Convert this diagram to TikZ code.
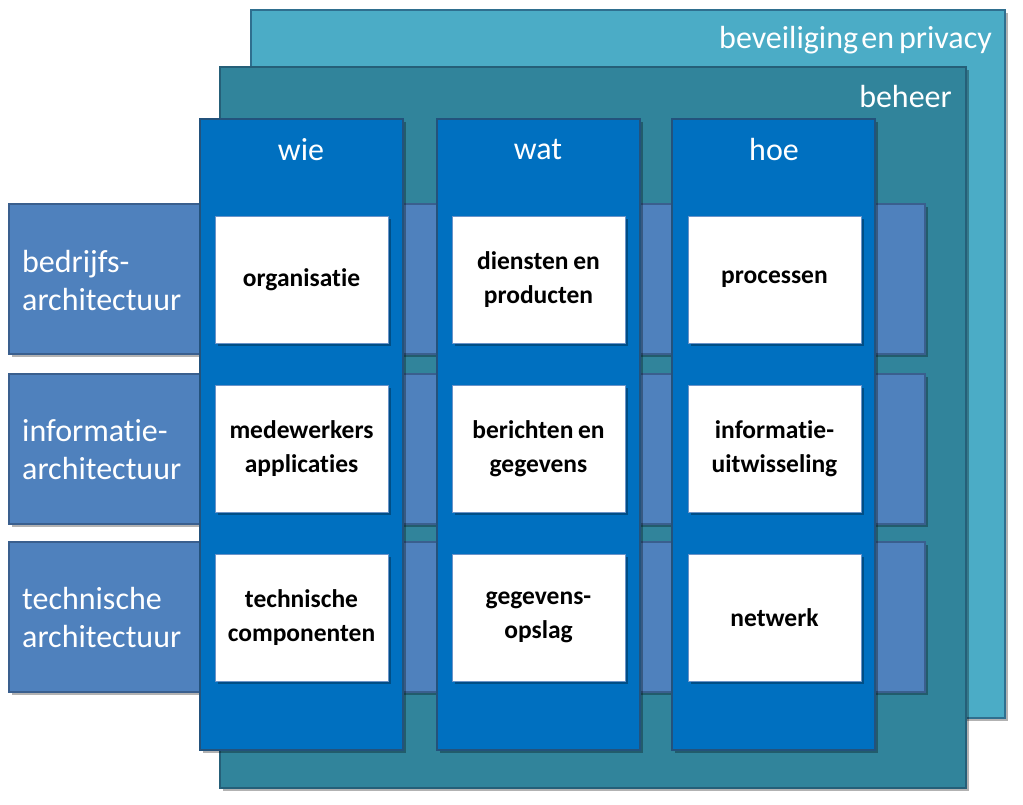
\documentclass[tikz,border=0pt]{standalone}
\usepackage{fontspec}
\setmainfont[Ligatures=NoCommon,Contextuals=NoAlternate,WordSpace=0.7]{Carlito}
\usetikzlibrary{shadows}
\newcommand{\nlti}{t\kern0pt i}
\newcommand{\tightspace}{\spaceskip=0.16em plus 0.05em\relax}
\definecolor{bevfill}{HTML}{4BACC6}
\definecolor{bevdraw}{HTML}{2F6F8F}
\definecolor{behfill}{HTML}{31849B}
\definecolor{behdraw}{HTML}{255F78}
\definecolor{rowfill}{HTML}{4F81BD}
\definecolor{rowdraw}{HTML}{3A5F8E}
\definecolor{colfill}{HTML}{0070C0}
\definecolor{coldraw}{HTML}{23527C}
\definecolor{celldraw}{HTML}{6A93C8}
\tikzset{
  box/.style={rectangle, inner sep=0pt, outer sep=0pt, anchor=north west, line width=1.2pt,
    drop shadow={shadow xshift=3pt, shadow yshift=-3pt, opacity=0.3, fill=black}},
  bevbox/.style={box, fill=bevfill, draw=bevdraw, minimum width=754pt, minimum height=708pt},
  behbox/.style={box, fill=behfill, draw=behdraw, minimum width=746pt, minimum height=721pt},
  rowbox/.style={box, fill=rowfill, draw=rowdraw, minimum width=916pt, minimum height=150pt},
  colbox/.style={box, fill=colfill, draw=coldraw, minimum width=203pt, minimum height=631pt},
  cellbox/.style={box, fill=white, draw=celldraw, line width=0.8pt, minimum width=173pt, minimum height=127pt,
    text width=170pt, align=center, font=\bfseries\fontsize{25.5}{34}\selectfont, text=black,
    execute at begin node=\tightspace},
  bigtxt/.style={text=white, inner sep=0pt, font=\fontsize{32}{38}\selectfont},
}
\begin{document}
\begin{tikzpicture}[x=1pt,y=-1pt]
\useasboundingbox (0,0) rectangle (1023,805);
\node[bevbox] (bev) at (251,10) {};
\node[bigtxt, anchor=east] (bevt) at (992,40) {beveiliging\kern0.1em en privacy};
\node[behbox] (beh) at (220,67) {};
\node[bigtxt, anchor=east] (beht) at (952,97) {beheer};
\node[rowbox] (r1) at (9,204) {};
\node[rowbox] (r2) at (9,374) {};
\node[rowbox] (r3) at (9,542) {};
\node[bigtxt, anchor=west, align=left] (r1t) at (22,281) {bedrijfs-\\architectuur};
\node[bigtxt, anchor=west, align=left] (r2t) at (22,450) {informa\nlti e-\\architectuur};
\node[bigtxt, anchor=west, align=left] (r3t) at (22,618) {technische\\architectuur};
\node[colbox] (c1) at (200,119) {};
\node[colbox] (c2) at (437,119) {};
\node[colbox] (c3) at (672,119) {};
\node[bigtxt] (c1t) at (301,150) {wie};
\node[bigtxt] (c2t) at (538,150) {wat};
\node[bigtxt] (c3t) at (774,150) {hoe};
\node[cellbox] (a11) at (215,216) {organisa\nlti e};
\node[cellbox] (a12) at (452,216) {diensten en\\producten};
\node[cellbox] (a13) at (688,216) {processen};
\node[cellbox] (a21) at (215,385) {medewerkers\\applica\nlti es};
\node[cellbox] (a22) at (452,385) {berichten en\\gegevens};
\node[cellbox] (a23) at (688,385) {informa\nlti e-\\uitwisseling};
\node[cellbox] (a31) at (215,554) {technische\\componenten};
\node[cellbox] (a32) at (452,554) {gegevens-\\opslag};
\node[cellbox] (a33) at (688,554) {netwerk};
\end{tikzpicture}
\end{document}
